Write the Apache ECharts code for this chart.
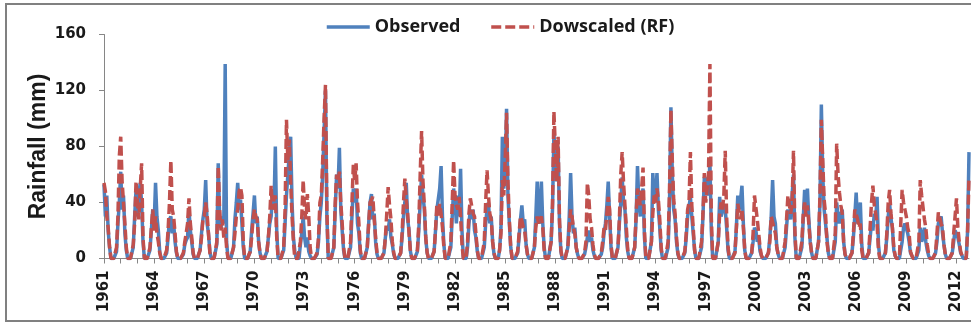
<!DOCTYPE html>
<html>
<head>
<meta charset="utf-8">
<script src="https://cdn.jsdelivr.net/npm/echarts@6/dist/echarts.min.js"></script>
<style>
  html, body { margin: 0; padding: 0; background: #fff; }
  #chart { width: 971px; height: 324px; }
</style>
</head>
<body>
<div id="chart"></div>
<script>
// monthly rainfall (mm), Jan 1961 .. Oct 2012, one row per year
const startYear = 1961;
const obs = [
  53, 30, 45, 20, 8, 0, 0, 0, 0, 5, 25, 40,      // 1961
  62, 35, 45, 18, 6, 0, 0, 0, 0, 8, 30, 49,      // 1962
  30, 45, 54, 40, 12, 0, 0, 0, 0, 6, 20, 35,     // 1963
  25, 54, 30, 20, 5, 0, 0, 0, 0, 4, 15, 28,      // 1964
  30, 18, 25, 12, 4, 0, 0, 0, 0, 3, 10, 13,      // 1965
  15, 35, 20, 12, 3, 0, 0, 0, 0, 6, 18, 28,      // 1966
  35, 56, 25, 18, 5, 0, 0, 0, 0, 10, 68, 30,     // 1967
  22, 30, 25, 139, 12, 0, 0, 0, 0, 8, 28, 40,    // 1968
  54, 35, 42, 25, 8, 0, 0, 0, 0, 5, 20, 32,      // 1969
  45, 25, 30, 12, 4, 0, 0, 0, 0, 5, 15, 25,      // 1970
  30, 45, 35, 80, 20, 0, 0, 0, 0, 6, 25, 45,     // 1971
  60, 75, 87, 40, 15, 5, 0, 0, 0, 10, 18, 30,    // 1972
  15, 8, 15, 5, 2, 0, 0, 0, 0, 3, 12, 30,        // 1973
  40, 60, 90, 120, 30, 0, 0, 0, 0, 8, 35, 60,    // 1974
  50, 79, 35, 20, 6, 0, 0, 0, 0, 8, 30, 50,      // 1975
  40, 50, 25, 18, 4, 0, 0, 0, 0, 8, 25, 40,      // 1976
  46, 28, 32, 12, 3, 0, 0, 0, 0, 4, 15, 22,      // 1977
  20, 28, 15, 10, 3, 0, 0, 0, 0, 4, 15, 30,      // 1978
  40, 54, 28, 20, 5, 0, 0, 0, 0, 5, 20, 40,      // 1979
  60, 45, 35, 14, 4, 0, 0, 0, 0, 5, 20, 35,      // 1980
  35, 50, 66, 30, 10, 0, 0, 0, 0, 8, 30, 50,     // 1981
  40, 25, 45, 30, 64, 20, 0, 0, 0, 8, 25, 35,    // 1982
  28, 35, 20, 15, 5, 0, 0, 0, 0, 8, 25, 35,      // 1983
  40, 25, 30, 12, 3, 0, 0, 0, 6, 22, 87, 50,     // 1984
  60, 107, 45, 25, 8, 0, 0, 0, 0, 4, 15, 28,     // 1985
  38, 25, 28, 10, 3, 0, 0, 0, 0, 8, 30, 55,      // 1986
  35, 25, 55, 25, 8, 0, 0, 0, 0, 12, 35, 90,     // 1987
  70, 55, 80, 25, 5, 0, 0, 0, 0, 8, 30, 61,      // 1988
  30, 18, 22, 8, 3, 0, 0, 0, 0, 3, 8, 15,        // 1989
  20, 12, 15, 6, 2, 0, 0, 0, 0, 3, 8, 18,        // 1990
  25, 38, 55, 30, 8, 0, 0, 0, 0, 8, 25, 40,      // 1991
  58, 40, 35, 15, 5, 0, 0, 0, 0, 8, 28, 66,      // 1992
  40, 30, 45, 50, 15, 0, 0, 0, 0, 12, 61, 40,    // 1993
  45, 61, 35, 22, 6, 0, 0, 0, 0, 8, 40, 108,     // 1994
  60, 35, 28, 12, 3, 0, 0, 0, 0, 4, 15, 30,      // 1995
  30, 44, 30, 18, 6, 0, 0, 0, 0, 8, 30, 58,      // 1996
  45, 58, 45, 70, 20, 0, 0, 0, 0, 12, 44, 30,    // 1997
  30, 38, 35, 22, 6, 0, 0, 0, 0, 5, 22, 45,      // 1998
  35, 42, 52, 25, 6, 0, 0, 0, 0, 4, 12, 22,      // 1999
  20, 12, 15, 5, 2, 0, 0, 0, 0, 4, 15, 30,       // 2000
  56, 30, 25, 8, 3, 0, 0, 0, 0, 8, 22, 35,       // 2001
  35, 28, 45, 60, 15, 0, 0, 0, 0, 8, 28, 49,     // 2002
  35, 50, 28, 12, 4, 0, 0, 0, 0, 12, 40, 110,    // 2003
  60, 35, 35, 15, 4, 0, 0, 0, 0, 12, 40, 30,     // 2004
  25, 32, 35, 12, 3, 0, 0, 0, 0, 4, 15, 30,      // 2005
  47, 25, 30, 40, 10, 0, 0, 0, 0, 4, 15, 25,     // 2006
  20, 32, 28, 44, 10, 0, 0, 0, 0, 4, 15, 30,     // 2007
  39, 28, 22, 6, 2, 0, 0, 0, 0, 12, 22, 25,      // 2008
  25, 18, 12, 4, 2, 0, 0, 0, 0, 6, 22, 12,       // 2009
  15, 22, 12, 6, 2, 0, 0, 0, 0, 4, 12, 25,       // 2010
  25, 30, 18, 10, 3, 0, 0, 0, 0, 4, 12, 20,      // 2011
  20, 15, 10, 4, 2, 0, 0, 0, 20, 76              // 2012
];
const rf = [
  54, 48, 30, 22, 8, 0, 0, 0, 0, 8, 30, 73,      // 1961
  87, 55, 40, 25, 8, 0, 0, 0, 0, 10, 25, 55,     // 1962
  40, 28, 50, 68, 15, 0, 0, 0, 0, 8, 22, 35,     // 1963
  20, 30, 18, 12, 4, 0, 0, 0, 0, 6, 20, 40,      // 1964
  70, 35, 30, 18, 5, 0, 0, 0, 0, 4, 12, 18,      // 1965
  25, 43, 25, 15, 4, 0, 0, 0, 0, 6, 15, 28,      // 1966
  30, 40, 32, 18, 4, 0, 0, 0, 0, 12, 66, 35,     // 1967
  20, 28, 15, 22, 8, 0, 0, 0, 0, 8, 18, 30,      // 1968
  35, 48, 51, 45, 12, 0, 0, 0, 0, 5, 15, 28,     // 1969
  35, 30, 28, 12, 4, 0, 0, 0, 0, 5, 15, 30,      // 1970
  52, 35, 42, 45, 15, 0, 0, 0, 0, 8, 35, 99,     // 1971
  70, 85, 55, 30, 12, 0, 0, 0, 0, 12, 30, 56,    // 1972
  35, 28, 46, 30, 8, 0, 0, 0, 0, 4, 15, 40,      // 1973
  45, 70, 100, 124, 35, 0, 0, 0, 0, 8, 40, 60,   // 1974
  55, 62, 40, 25, 8, 0, 0, 0, 0, 12, 40, 67,     // 1975
  55, 68, 40, 25, 6, 0, 0, 0, 0, 8, 25, 40,      // 1976
  40, 44, 28, 15, 4, 0, 0, 0, 0, 4, 15, 32,      // 1977
  51, 38, 28, 12, 4, 0, 0, 0, 0, 4, 18, 40,      // 1978
  57, 42, 32, 18, 5, 0, 0, 0, 0, 6, 25, 60,      // 1979
  91, 55, 38, 15, 4, 0, 0, 0, 0, 5, 20, 39,      // 1980
  30, 39, 32, 22, 8, 0, 0, 0, 0, 12, 40, 70,     // 1981
  45, 38, 35, 44, 30, 10, 0, 0, 0, 12, 32, 43,   // 1982
  42, 32, 30, 18, 6, 0, 0, 0, 0, 12, 40, 63,     // 1983
  45, 32, 28, 12, 4, 0, 0, 0, 6, 18, 56, 45,     // 1984
  70, 104, 55, 28, 8, 0, 0, 0, 0, 5, 18, 30,     // 1985
  27, 22, 20, 10, 3, 0, 0, 0, 0, 8, 22, 30,      // 1986
  25, 28, 30, 22, 6, 0, 0, 0, 0, 12, 40, 105,    // 1987
  80, 55, 87, 28, 6, 0, 0, 0, 0, 8, 22, 35,      // 1988
  30, 22, 18, 8, 3, 0, 0, 0, 0, 4, 12, 54,       // 1989
  45, 28, 22, 10, 3, 0, 0, 0, 0, 4, 12, 22,      // 1990
  20, 32, 44, 35, 10, 0, 0, 0, 0, 8, 28, 60,     // 1991
  76, 54, 38, 22, 6, 0, 0, 0, 0, 8, 32, 50,      // 1992
  45, 38, 50, 65, 20, 0, 0, 0, 0, 12, 32, 45,    // 1993
  40, 50, 42, 28, 8, 0, 0, 0, 0, 12, 50, 106,    // 1994
  70, 42, 32, 15, 4, 0, 0, 0, 0, 5, 18, 35,      // 1995
  40, 76, 38, 22, 6, 0, 0, 0, 0, 12, 32, 61,     // 1996
  40, 50, 60, 139, 30, 0, 0, 0, 0, 12, 32, 40,   // 1997
  35, 45, 77, 30, 8, 0, 0, 0, 0, 4, 22, 39,      // 1998
  39, 28, 35, 22, 6, 0, 0, 0, 0, 4, 18, 45,      // 1999
  44, 28, 18, 8, 2, 0, 0, 0, 0, 4, 12, 30,       // 2000
  30, 22, 18, 8, 3, 0, 0, 0, 0, 12, 28, 45,      // 2001
  45, 32, 40, 77, 20, 0, 0, 0, 0, 12, 32, 40,    // 2002
  30, 38, 25, 12, 4, 0, 0, 0, 0, 12, 45, 99,     // 2003
  70, 42, 32, 12, 4, 0, 0, 0, 0, 18, 82, 60,     // 2004
  47, 38, 32, 12, 3, 0, 0, 0, 0, 4, 18, 35,      // 2005
  35, 28, 22, 25, 6, 0, 0, 0, 0, 4, 22, 40,      // 2006
  52, 38, 32, 25, 6, 0, 0, 0, 0, 4, 18, 40,      // 2007
  49, 32, 22, 8, 2, 0, 0, 0, 0, 49, 40, 35,      // 2008
  30, 22, 18, 5, 2, 0, 0, 0, 0, 12, 56, 45,      // 2009
  45, 28, 22, 10, 3, 0, 0, 0, 0, 4, 18, 33,      // 2010
  33, 25, 22, 10, 3, 0, 0, 0, 0, 4, 18, 30,      // 2011
  43, 22, 12, 5, 2, 0, 0, 0, 20, 58              // 2012
];
const yTicks = [0, 40, 80, 120, 160];

// one category per month, label shows the year
const months = obs.map((_, i) =>
  (startYear + Math.floor(i / 12)) + '-' + String(i % 12 + 1).padStart(2, '0'));

const chart = echarts.init(document.getElementById('chart'));

const option = {
  animation: false,
  backgroundColor: '#fff',
  graphic: [{
    type: 'rect',
    shape: { x: 6, y: 4, width: 1000, height: 317 },
    style: { fill: 'none', stroke: '#808080', lineWidth: 2 },
    silent: true
  }],
  legend: {
    left: 320,
    top: 13,
    itemWidth: 43,
    itemHeight: 10,
    itemGap: 29,
    itemStyle: { opacity: 0 },
    lineStyle: { width: 3.5 },
    textStyle: { fontFamily: 'Open Sans', fontWeight: 'bold', fontSize: 18, color: '#1a1a1a' },
    data: ['Observed', 'Dowscaled (RF)']
  },
  grid: { left: 104, right: 2, top: 34.5, bottom: 65.5 },
  xAxis: {
    type: 'category',
    boundaryGap: false,
    data: months,
    axisLine: { lineStyle: { color: '#868686', width: 1 } },
    axisTick: { interval: 11, length: 5, lineStyle: { color: '#868686' } },
    axisLabel: {
      interval: 35,
      rotate: 90,
      margin: 12,
      fontFamily: 'DejaVu Sans',
      fontWeight: 'bold',
      fontSize: 15,
      color: '#1a1a1a',
      formatter: v => v.slice(0, 4)
    },
    splitLine: { show: false }
  },
  yAxis: {
    type: 'value',
    min: yTicks[0],
    max: yTicks[yTicks.length - 1],
    interval: 40,
    name: 'Rainfall (mm)',
    nameLocation: 'middle',
    nameGap: 54,
    nameMoveOverlap: false,
    nameTextStyle: { fontFamily: 'Liberation Sans', fontWeight: 'bold', fontSize: 23, color: '#1a1a1a' },
    axisLine: { show: true, lineStyle: { color: '#868686', width: 1 } },
    axisTick: { show: true, length: 5, lineStyle: { color: '#868686' } },
    axisLabel: { margin: 18, fontFamily: 'DejaVu Sans', fontWeight: 'bold', fontSize: 15, color: '#1a1a1a' },
    splitLine: { show: false }
  },
  series: [
    {
      name: 'Observed',
      type: 'line',
      data: obs,
      symbol: 'none',
      color: '#4F81BD',
      lineStyle: { width: 3.5, color: '#4F81BD' }
    },
    {
      name: 'Dowscaled (RF)',
      type: 'line',
      data: rf,
      symbol: 'none',
      color: '#C0504D',
      lineStyle: { width: 3.5, color: '#C0504D', type: [10, 4] }
    }
  ]
};

chart.setOption(option);
</script>
</body>
</html>
